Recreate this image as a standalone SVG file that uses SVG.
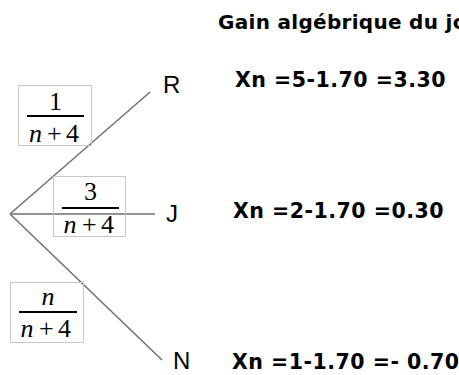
<svg xmlns="http://www.w3.org/2000/svg" width="459" height="375" viewBox="0 0 459 375">
<style>
.conn{stroke:#6f6f6f;stroke-width:1.5;fill:none}
.box{fill:none;stroke:#c8c8c8;stroke-width:1}
.bar{stroke:#000;stroke-width:2}
.m{font-family:"Liberation Serif","DejaVu Serif",serif;font-size:26px;fill:#000}
.it{font-style:italic}
.lab{font-family:"Liberation Sans",Arial,sans-serif;font-size:24px;fill:#000}
.g{font-family:"DejaVu Sans",Verdana,sans-serif;font-weight:bold;font-size:20.5px;letter-spacing:0.5px;fill:#000}
.t{font-family:"DejaVu Sans",Verdana,sans-serif;font-weight:bold;font-size:20px;letter-spacing:0.3px;fill:#000}
</style>
<rect width="459" height="375" fill="#fff"/>
<g id="connectors">
<line class="conn" x1="10" y1="214" x2="150" y2="92"/>
<line class="conn" x1="10" y1="214" x2="155" y2="214"/>
<line class="conn" x1="10" y1="214" x2="162" y2="360"/>
</g>
<g id="title"><text class="t" x="218" y="29">Gain algébrique du jo</text></g>
<g id="R">
<text class="lab" x="163" y="93">R</text>
<text class="g" x="235" y="87">Xn =5-1.70 =3.30</text>
</g>
<g id="J">
<text class="lab" x="166" y="222">J</text>
<text class="g" x="233" y="218">Xn =2-1.70 =0.30</text>
</g>
<g id="N">
<text class="lab" x="173" y="369">N</text>
<text class="g" x="232" y="369">Xn =1-1.70 =- 0.70</text>
</g>
<g id="p1">
<rect class="box" x="18.5" y="85.5" width="73" height="60"/>
<text class="m" x="55.5" y="110" text-anchor="middle">1</text>
<line class="bar" x1="27" y1="116" x2="84" y2="116"/>
<text class="m" y="142"><tspan class="it" x="29">n</tspan><tspan x="47">+</tspan><tspan x="66">4</tspan></text>
</g>
<g id="p2">
<rect class="box" x="53.5" y="176.5" width="72" height="60"/>
<text class="m" x="90.5" y="200" text-anchor="middle">3</text>
<line class="bar" x1="62" y1="208" x2="119" y2="208"/>
<text class="m" y="233"><tspan class="it" x="63.5">n</tspan><tspan x="82">+</tspan><tspan x="101">4</tspan></text>
</g>
<g id="p3">
<rect class="box" x="10.5" y="282.5" width="73" height="60"/>
<text class="m it" x="48" y="305" text-anchor="middle">n</text>
<line class="bar" x1="19" y1="312" x2="77" y2="312"/>
<text class="m" y="337"><tspan class="it" x="20.5">n</tspan><tspan x="39">+</tspan><tspan x="58">4</tspan></text>
</g>
</svg>
